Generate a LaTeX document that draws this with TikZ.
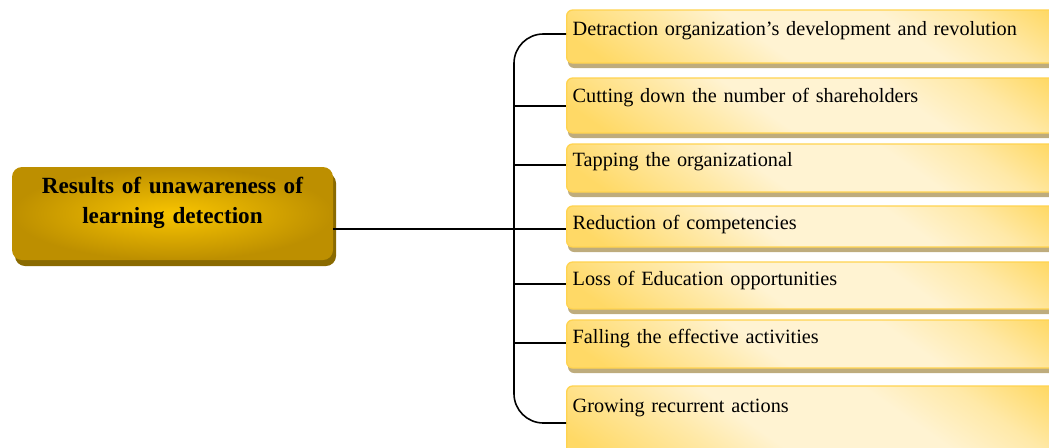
\documentclass[tikz,border=0pt]{standalone}
\usepackage{fontspec}
\setmainfont{Liberation Serif}
\usetikzlibrary{shadows}
\definecolor{gold}{HTML}{FFD966}
\definecolor{lightgold}{HTML}{FFE9A8}
\definecolor{cream}{HTML}{FFF3D2}
\definecolor{goldedge}{HTML}{FFD34F}
\definecolor{tanshadow}{HTML}{BEAC7D}
\definecolor{rootin}{HTML}{F8C400}
\definecolor{rootout}{HTML}{BD8F00}
\definecolor{rootshadow}{HTML}{8A6A00}
\pgfdeclareverticalshading{leafshade}{100bp}{color(0bp)=(gold); color(20bp)=(gold); color(34bp)=(lightgold); color(42bp)=(cream); color(60bp)=(cream); color(70bp)=(lightgold); color(80bp)=(gold); color(100bp)=(gold)}
\tikzset{
  leaf/.style 2 args={draw=goldedge, line width=1pt, rounded corners=4.5pt,
    shading=leafshade, shading angle=-35,
    drop shadow={shadow xshift=1pt, shadow yshift=-3.75pt, fill=tanshadow, opacity=1},
    anchor=base west, inner xsep=4.5pt, inner ysep=0pt,
    text width=381pt, align=left, text height=#1, text depth=#2,
    font=\fontsize{15.2}{17}\selectfont},
  root/.style={rounded corners=7.5pt, inner color=rootin, outer color=rootout,
    drop shadow={shadow xshift=2.25pt, shadow yshift=-4.5pt, fill=rootshadow, opacity=1},
    anchor=base, inner sep=0pt, text width=240.75pt, align=center,
    text height=19.5pt, text depth=50.25pt,
    font=\fontsize{17.4}{22.5}\selectfont\bfseries},
  conn/.style={line width=1.2pt, black}
}
\begin{document}
\begin{tikzpicture}[x=0.75pt, y=-0.75pt]
\useasboundingbox (0,0) rectangle (1049,447);
\clip (0,0) rectangle (1049,447);
\node[root] (r) at (172.5,193) {Results of unawareness of\\learning detection};
\node[leaf={18.75pt}{21pt}] (b1) at (566,35) {Detraction organization’s development and revolution};
\node[leaf={18pt}{23.25pt}] (b2) at (566,102) {Cutting down the number of shareholders};
\node[leaf={16.5pt}{19.5pt}] (b3) at (566,166) {Tapping the organizational};
\node[leaf={17.25pt}{13.5pt}] (b4) at (566,229) {Reduction of competencies};
\node[leaf={17.25pt}{18pt}] (b5) at (566,285) {Loss of Education opportunities};
\node[leaf={17.25pt}{18.75pt}] (b6) at (566,343) {Falling the effective activities};
\node[leaf={19.5pt}{39.75pt}] (b7) at (566,412) {Growing recurrent actions};
\coordinate (j) at (514,229);
\coordinate (c1) at ([yshift=0.75pt]b1.base west);
\coordinate (c2) at ([yshift=-3pt]b2.base west);
\coordinate (c3) at ([yshift=0.75pt]b3.base west);
\coordinate (c4) at (b4.base west);
\coordinate (c5) at ([yshift=0.75pt]b5.base west);
\coordinate (c6) at (b6.base west);
\coordinate (c7) at ([yshift=-8.25pt]b7.base west);
\draw[conn, rounded corners=22pt] (c1) -| (j) |- (c7);
\draw[conn] (r.east |- j) -- (c4);
\draw[conn] (j |- c2) -- (c2);
\draw[conn] (j |- c3) -- (c3);
\draw[conn] (j |- c5) -- (c5);
\draw[conn] (j |- c6) -- (c6);
\end{tikzpicture}
\end{document}
